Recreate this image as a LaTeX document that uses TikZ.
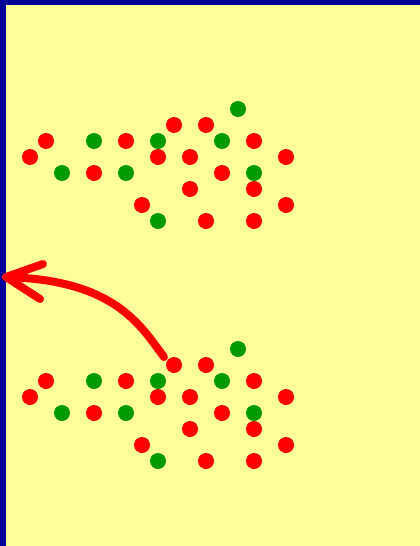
\documentclass[tikz,border=0pt]{standalone}
\definecolor{bgyellow}{RGB}{255,255,153}
\definecolor{frameblue}{RGB}{0,0,153}
\definecolor{dotred}{RGB}{255,0,0}
\definecolor{dotgreen}{RGB}{0,153,0}
\tikzset{
  rdot/.style={circle,fill=dotred,inner sep=0pt,minimum size=16pt},
  gdot/.style={circle,fill=dotgreen,inner sep=0pt,minimum size=16pt},
  redstroke/.style={draw=dotred,line width=8pt,line cap=round,line join=round}
}
\newcommand{\dotcluster}[2]{%
  \begin{scope}[yshift=-#1pt]
  \node[gdot] (#2a) at (238,109) {};
  \node[rdot] (#2b) at (174,125) {};
  \node[rdot] (#2c) at (206,125) {};
  \node[rdot] (#2d) at (46,141) {};
  \node[gdot] (#2e) at (94,141) {};
  \node[rdot] (#2f) at (126,141) {};
  \node[gdot] (#2g) at (158,141) {};
  \node[gdot] (#2h) at (222,141) {};
  \node[rdot] (#2i) at (254,141) {};
  \node[rdot] (#2j) at (30,157) {};
  \node[rdot] (#2k) at (158,157) {};
  \node[rdot] (#2l) at (190,157) {};
  \node[rdot] (#2m) at (286,157) {};
  \node[gdot] (#2n) at (62,173) {};
  \node[rdot] (#2o) at (94,173) {};
  \node[gdot] (#2p) at (126,173) {};
  \node[rdot] (#2q) at (222,173) {};
  \node[gdot] (#2r) at (254,173) {};
  \node[rdot] (#2s) at (190,189) {};
  \node[rdot] (#2t) at (254,189) {};
  \node[rdot] (#2u) at (142,205) {};
  \node[rdot] (#2v) at (286,205) {};
  \node[gdot] (#2w) at (158,221) {};
  \node[rdot] (#2x) at (206,221) {};
  \node[rdot] (#2y) at (254,221) {};
  \end{scope}}
\begin{document}
\begin{tikzpicture}[x=1pt,y=-1pt]
  \useasboundingbox (0,0) rectangle (420,546);
  \fill[frameblue] (0,0) rectangle (420,546);
  \fill[bgyellow] (6,5) rectangle (420,546);
  \dotcluster{0}{t}
  \dotcluster{240}{b}
  \coordinate (tail) at (164,357);
  \coordinate (tip) at (6,277);
  \coordinate (armup) at (43,264);
  \coordinate (armdown) at (40,299);
  \draw[redstroke] (tail) .. controls (140,325) and (115,280) .. (tip);
  \draw[redstroke] (armup) -- (tip) -- (armdown);
\end{tikzpicture}
\end{document}
